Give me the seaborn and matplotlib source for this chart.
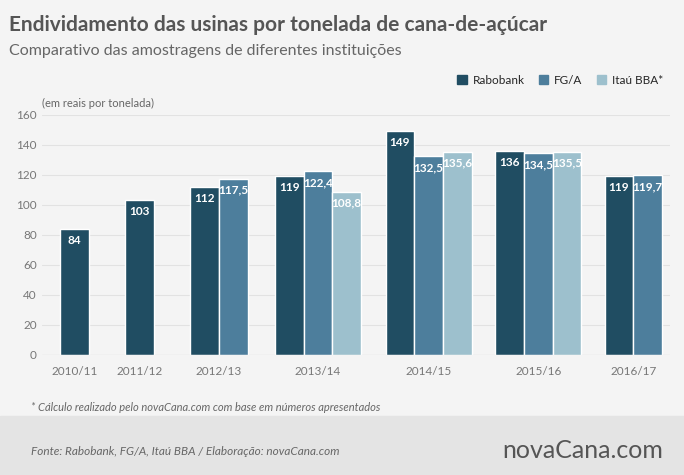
import numpy as np
import matplotlib
matplotlib.use('Agg')
import matplotlib.pyplot as plt
import seaborn as sns

seasons = ['2010/11', '2011/12', '2012/13', '2013/14', '2014/15', '2015/16', '2016/17']
rabobank = [84, 103, 112, 119, 149, 136, 119]
fga = [None, None, 117.5, 122.4, 132.5, 134.5, 119.7]
itau = [None, None, None, 108.8, 135.6, 135.5, None]
series = ['Rabobank', 'FG/A', 'Itaú BBA*']
colors = ['#204d62', '#4d7e9c', '#9dc0cd']

sns.set_style('white')
plt.rcParams['font.family'] = ['Lato', 'DejaVu Sans']

fig = plt.figure(figsize=(6.84, 4.75), dpi=100)
fig.patch.set_facecolor('#f4f4f4')
# footer band
fig.add_artist(plt.Rectangle((0, 0), 1, 0.125, transform=fig.transFigure,
                             color='#e4e4e4', zorder=0))
ax = fig.add_axes([0.061, 0.253, 0.919, 0.505])
ax.set_facecolor('#f4f4f4')

# group centres in pixel-like units
centres = [74.7, 139.8, 219, 318, 428.5, 538, 633]
bw = 28.6
for i, s in enumerate(seasons):
    vals = (rabobank[i], fga[i], itau[i])
    present = [(k, v) for k, v in enumerate(vals) if v is not None]
    n = len(present)
    start = centres[i] - n * bw / 2
    for j, (k, v) in enumerate(present):
        x = start + j * bw + bw / 2
        ax.bar(x, v, width=bw, color=colors[k], zorder=3)
        txt = f'{v:g}'.replace('.', ',')
        ax.text(x, v - 4, txt, ha='center', va='top', color='white',
                fontsize=8.5, fontweight='bold', zorder=4)

ax.set_xlim(42, 670)
ax.set_ylim(0, 160)
ax.set_yticks(range(0, 161, 20))
ax.set_xticks(centres)
ax.set_xticklabels(seasons)
ax.tick_params(labelsize=8.5, colors='#777777', length=0)
ax.tick_params(axis='x', pad=8)
ax.grid(axis='y', color='#e2e2e2', lw=0.8, zorder=0)
for sp in ax.spines.values():
    sp.set_visible(False)
ax.axhline(0, color='#cccccc', lw=0.8, zorder=5)
ax.text(0.0, 1.035, '(em reais por tonelada)', transform=ax.transAxes,
        fontsize=8, color='#666666')

handles = [plt.Rectangle((0, 0), 1, 1, color=c) for c in colors]
fig.legend(handles, series, loc='upper right', bbox_to_anchor=(0.985, 0.865),
           ncol=3, frameon=False, fontsize=8.5, handlelength=0.8,
           handleheight=0.8, columnspacing=1.2, handletextpad=0.5)

fig.text(0.013, 0.935, 'Endividamento das usinas por tonelada de cana-de-açúcar',
         fontsize=15, fontweight='bold', color='#555555')
fig.text(0.013, 0.885, 'Comparativo das amostragens de diferentes instituições',
         fontsize=11.5, color='#666666')
fig.text(0.045, 0.135, '* Cálculo realizado pelo novaCana.com com base em números apresentados',
         fontsize=8, style='italic', color='#666666')
fig.text(0.045, 0.043, 'Fonte: Rabobank, FG/A, Itaú BBA / Elaboração: novaCana.com',
         fontsize=8.5, style='italic', color='#666666')
fig.text(0.97, 0.035, 'novaCana.com', fontsize=18, color='#555555', ha='right')

fig.savefig('out.png', dpi=100, facecolor=fig.get_facecolor())
